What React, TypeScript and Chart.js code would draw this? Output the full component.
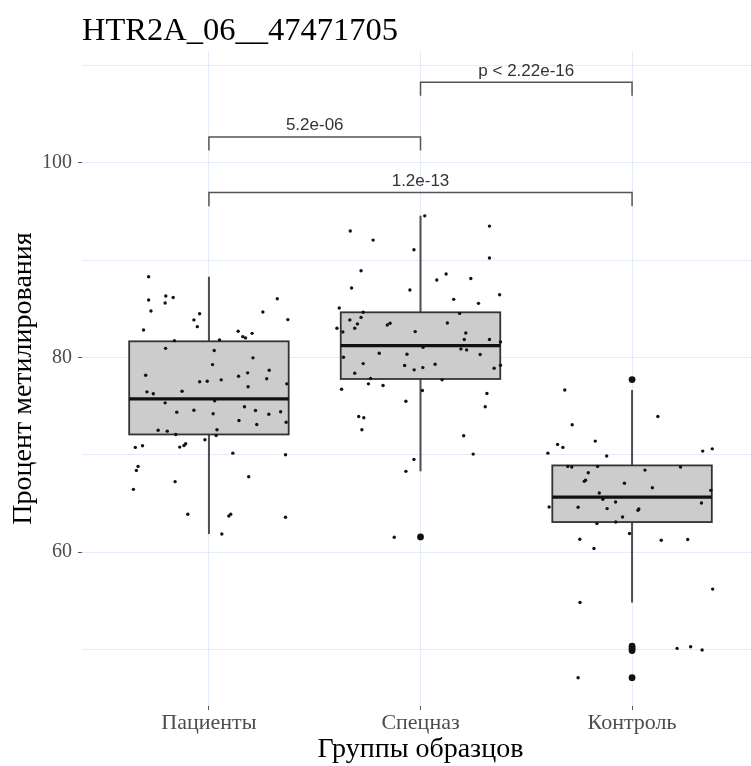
import React, { useEffect, useRef } from "react";
import { Chart, registerables } from "chart.js";

Chart.register(...registerables);

const chartTitle = "HTR2A_06__47471705";
const categories = ["Пациенты", "Спецназ", "Контроль"];
const xAxisTitle = "Группы образцов";
const yAxisTitle = "Процент метилирования";
const yLabelTicks = [60, 80, 100];

// box statistics
const boxQ1 = [72.1, 77.8, 63.1];
const boxMedian = [75.76, 81.23, 65.67];
const boxQ3 = [81.67, 84.65, 68.92];
const whiskerLow = [61.88, 68.31, 54.84];
const whiskerHigh = [88.31, 94.56, 76.67];

// boxplot outliers
const outlierGroups = [2, 3, 3, 3, 3, 3];
const outlierValues = [61.57, 77.74, 50.35, 50.12, 49.9, 47.11];

// jittered points: horizontal offset from group centre and value
const patientsJitter = [
  -0.285, -0.285, -0.204, -0.169, -0.207, -0.274, -0.044, -0.071, -0.055, -0.309,
  0.323, 0.255, 0.373, 0.138, 0.16, 0.173, 0.204, -0.163, 0.05, -0.205,
  0.025, 0.208, 0.017, -0.299, 0.285, 0.183, 0.14, 0.273, -0.044, -0.008,
  0.058, 0.185, 0.368, -0.293, -0.263, -0.127, -0.207, 0.027, 0.168, -0.152,
  -0.071, 0.02, 0.22, 0.283, 0.339, 0.142, 0.226, 0.365, -0.24, -0.197,
  0.038, -0.157, 0.034, -0.019, -0.348, -0.314, -0.138, -0.118, -0.11, 0.113,
  0.362, -0.335, -0.343, -0.16, 0.188, -0.357, -0.1, 0.094, 0.103, 0.362, 0.061,
];
const patientsValues = [
  88.31, 85.92, 86.33, 86.18, 85.61, 84.79, 84.51, 83.87, 83.18, 82.84,
  86.05, 84.69, 83.9, 82.7, 82.15, 82.02, 82.49, 81.74, 81.82, 80.95,
  80.72, 79.97, 79.28, 78.18, 78.7, 78.43, 78.08, 77.82, 77.51, 77.57,
  77.71, 77.0, 77.3, 76.48, 76.28, 76.54, 75.35, 75.56, 74.94, 74.39,
  74.59, 74.23, 74.56, 74.18, 74.43, 73.54, 73.13, 73.36, 72.54, 72.44,
  72.58, 72.1, 72.0, 71.56, 70.77, 70.94, 70.8, 70.97, 71.15, 70.18,
  70.02, 68.82, 68.41, 67.25, 67.76, 66.46, 63.9, 63.72, 63.9, 63.59, 61.88,
];

const specnazJitter = [
  0.02, -0.332, -0.224, 0.326, 0.326, -0.031, -0.281, -0.326, 0.077, 0.121,
  0.238, 0.374, -0.05, 0.157, 0.274, -0.384, -0.271, 0.185, -0.334, -0.281,
  -0.298, -0.311, -0.395, -0.367, -0.157, -0.144, -0.025, 0.127, 0.214, 0.207,
  0.326, 0.378, 0.012, 0.191, 0.218, -0.195, -0.064, -0.364, 0.282, -0.271,
  -0.075, 0.069, -0.03, 0.011, 0.348, 0.378, -0.311, -0.246, -0.236, -0.177,
  0.102, -0.373, 0.009, 0.314, -0.069, 0.306, -0.292, -0.268, -0.277, 0.204,
  0.249, -0.031, -0.069, -0.124,
];
const specnazValues = [
  94.56, 93.0, 92.07, 93.51, 90.23, 91.08, 88.92, 87.15, 87.97, 88.58,
  88.13, 86.46, 86.94, 85.98, 85.57, 85.1, 84.65, 84.54, 83.87, 84.13,
  83.46, 83.01, 83.01, 82.64, 83.35, 83.52, 82.67, 83.56, 82.53, 81.85,
  81.85, 81.61, 81.06, 80.89, 80.79, 80.44, 80.34, 80.03, 80.31, 79.38,
  79.18, 79.31, 78.74, 78.97, 78.9, 79.21, 78.39, 77.3, 77.85, 77.13,
  77.71, 76.75, 76.62, 76.31, 75.52, 74.94, 73.95, 73.82, 72.58, 71.97,
  70.08, 69.54, 68.31, 61.54,
];

const controlJitter = [
  -0.318, 0.122, -0.283, -0.174, -0.352, -0.327, -0.398, -0.12, 0.334, 0.379,
  -0.304, -0.285, -0.163, 0.229, 0.061, -0.207, -0.226, -0.22, -0.036, 0.096,
  -0.155, -0.138, -0.078, 0.372, -0.392, -0.255, -0.118, 0.028, 0.032, 0.328,
  -0.045, -0.166, -0.077, -0.012, -0.247, -0.18, 0.138, 0.263, 0.381, -0.246,
  0.213, 0.277, 0.331, -0.255,
];
const controlValues = [
  76.67, 73.95, 73.1, 71.42, 71.08, 70.77, 70.18, 69.88, 70.39, 70.62,
  68.82, 68.75, 68.82, 68.75, 68.44, 68.17, 67.28, 67.4, 67.08, 66.63,
  66.08, 65.44, 65.16, 66.36, 64.65, 64.62, 64.48, 64.31, 64.45, 65.06,
  63.62, 62.94, 63.11, 61.92, 61.33, 60.38, 61.23, 61.3, 56.21, 54.84,
  50.12, 50.29, 49.95, 47.11,
];

// significance brackets
const bracketStart = [1, 2, 1];
const bracketEnd = [2, 3, 3];
const bracketLevel = [102.67, 108.3, 96.95];
const bracketLabels = ["5.2e-06", "p < 2.22e-16", "1.2e-13"];

const BOX_HALF = 0.377;
const TIP = 1.4;
const LABEL_GAP = 1.15;

function jitterData(group: number, offs: number[], vals: number[]) {
  return vals.map((v, i) => ({ x: group + offs[i], y: v }));
}

const boxPlugin = {
  id: "boxes",
  beforeDatasetsDraw(chart: any) {
    const { ctx, scales } = chart;
    const xs = scales.x;
    const ys = scales.y;
    ctx.save();
    for (let i = 0; i < categories.length; i++) {
      const c = i + 1;
      const xc = xs.getPixelForValue(c);
      const l = xs.getPixelForValue(c - BOX_HALF);
      const r = xs.getPixelForValue(c + BOX_HALF);
      const t = ys.getPixelForValue(boxQ3[i]);
      const b = ys.getPixelForValue(boxQ1[i]);
      ctx.strokeStyle = "#4d4d4d";
      ctx.lineWidth = 2;
      ctx.beginPath();
      ctx.moveTo(xc, t);
      ctx.lineTo(xc, ys.getPixelForValue(whiskerHigh[i]));
      ctx.moveTo(xc, b);
      ctx.lineTo(xc, ys.getPixelForValue(whiskerLow[i]));
      ctx.stroke();
      ctx.fillStyle = "#cccccc";
      ctx.fillRect(l, t, r - l, b - t);
      ctx.strokeStyle = "#333333";
      ctx.lineWidth = 1.8;
      ctx.strokeRect(l, t, r - l, b - t);
      const m = ys.getPixelForValue(boxMedian[i]);
      ctx.strokeStyle = "#111111";
      ctx.lineWidth = 3.2;
      ctx.beginPath();
      ctx.moveTo(l, m);
      ctx.lineTo(r, m);
      ctx.stroke();
    }
    ctx.restore();
  },
  afterDatasetsDraw(chart: any) {
    const { ctx, scales } = chart;
    const xs = scales.x;
    const ys = scales.y;
    ctx.save();
    for (let i = 0; i < bracketLabels.length; i++) {
      const x1 = xs.getPixelForValue(bracketStart[i]);
      const x2 = xs.getPixelForValue(bracketEnd[i]);
      const yl = ys.getPixelForValue(bracketLevel[i]);
      const yt = ys.getPixelForValue(bracketLevel[i] - TIP);
      ctx.strokeStyle = "#555555";
      ctx.lineWidth = 1.5;
      ctx.beginPath();
      ctx.moveTo(x1, yt);
      ctx.lineTo(x1, yl);
      ctx.lineTo(x2, yl);
      ctx.lineTo(x2, yt);
      ctx.stroke();
      ctx.fillStyle = "#333333";
      ctx.font = "17px 'Liberation Sans', Arial, sans-serif";
      ctx.textAlign = "center";
      ctx.textBaseline = "middle";
      ctx.fillText(bracketLabels[i], (x1 + x2) / 2, ys.getPixelForValue(bracketLevel[i] + LABEL_GAP));
    }
    ctx.restore();
  },
};

export default function App() {
  const ref = useRef<HTMLCanvasElement | null>(null);
  useEffect(() => {
    if (!ref.current) return;
    const serif = "'Liberation Serif', 'Times New Roman', serif";
    const chart = new Chart(ref.current, {
      type: "scatter",
      data: {
        datasets: [
          {
            label: categories[0],
            data: jitterData(1, patientsJitter, patientsValues),
            backgroundColor: "#111111",
            borderWidth: 0,
            pointRadius: 1.7,
          },
          {
            label: categories[1],
            data: jitterData(2, specnazJitter, specnazValues),
            backgroundColor: "#111111",
            borderWidth: 0,
            pointRadius: 1.7,
          },
          {
            label: categories[2],
            data: jitterData(3, controlJitter, controlValues),
            backgroundColor: "#111111",
            borderWidth: 0,
            pointRadius: 1.7,
          },
          {
            label: "outliers",
            data: outlierValues.map((v, i) => ({ x: outlierGroups[i], y: v })),
            backgroundColor: "#111111",
            borderWidth: 0,
            pointRadius: 3.4,
          },
        ],
      },
      options: {
        animation: false,
        responsive: false,
        maintainAspectRatio: false,
        devicePixelRatio: 1,
        layout: { padding: 0 },
        plugins: {
          legend: { display: false },
          tooltip: { enabled: false },
          title: {
            display: true,
            text: chartTitle,
            align: "start",
            fullSize: false,
            color: "#000000",
            font: { family: serif, size: 32.5, weight: "normal" },
            padding: { top: 12, bottom: 0 },
          },
        },
        scales: {
          x: {
            type: "linear",
            min: 0.4,
            max: 3.6,
            afterBuildTicks: (s: any) => {
              s.ticks = [1, 2, 3].map((v) => ({ value: v }));
            },
            afterFit: (s: any) => {
              s.height = 60;
            },
            ticks: {
              callback: (v: any) => categories[Math.round(Number(v)) - 1] ?? "",
              font: { family: serif, size: 22 },
              color: "#4d4d4d",
              padding: 0,
              maxRotation: 0,
              autoSkip: false,
            },
            grid: {
              color: "#e3edf9",
              lineWidth: 1,
              tickLength: 4,
              tickColor: "#555555",
            },
            border: { display: false },
            title: {
              display: true,
              text: xAxisTitle,
              color: "#000000",
              font: { family: serif, size: 28 },
              padding: { top: 0, bottom: 0 },
            },
          },
          y: {
            type: "linear",
            min: 44.2,
            max: 111.5,
            afterFit: (s: any) => {
              s.width = 82;
            },
            ticks: {
              stepSize: 10,
              includeBounds: false,
              callback: (v: any) => (yLabelTicks.includes(Number(v)) ? String(v) : ""),
              font: { family: serif, size: 20 },
              color: "#4d4d4d",
              padding: 6,
            },
            grid: {
              color: "#e3edf9",
              lineWidth: 1,
              tickLength: 4,
              tickColor: (c: any) => (yLabelTicks.includes(c.tick?.value) ? "#555555" : "rgba(0,0,0,0)"),
            },
            border: { display: false },
            title: {
              display: true,
              text: yAxisTitle,
              color: "#000000",
              font: { family: serif, size: 28 },
              padding: { top: 7, bottom: 0 },
            },
          },
        },
      },
      plugins: [boxPlugin],
    });
    return () => chart.destroy();
  }, []);
  return (
    <div
      style={{
        position: "fixed",
        left: 0,
        top: 0,
        width: 751,
        height: 766,
        overflow: "hidden",
        background: "#fff",
      }}
    >
      <canvas ref={ref} width={763} height={766} style={{ display: "block" }} />
    </div>
  );
}
